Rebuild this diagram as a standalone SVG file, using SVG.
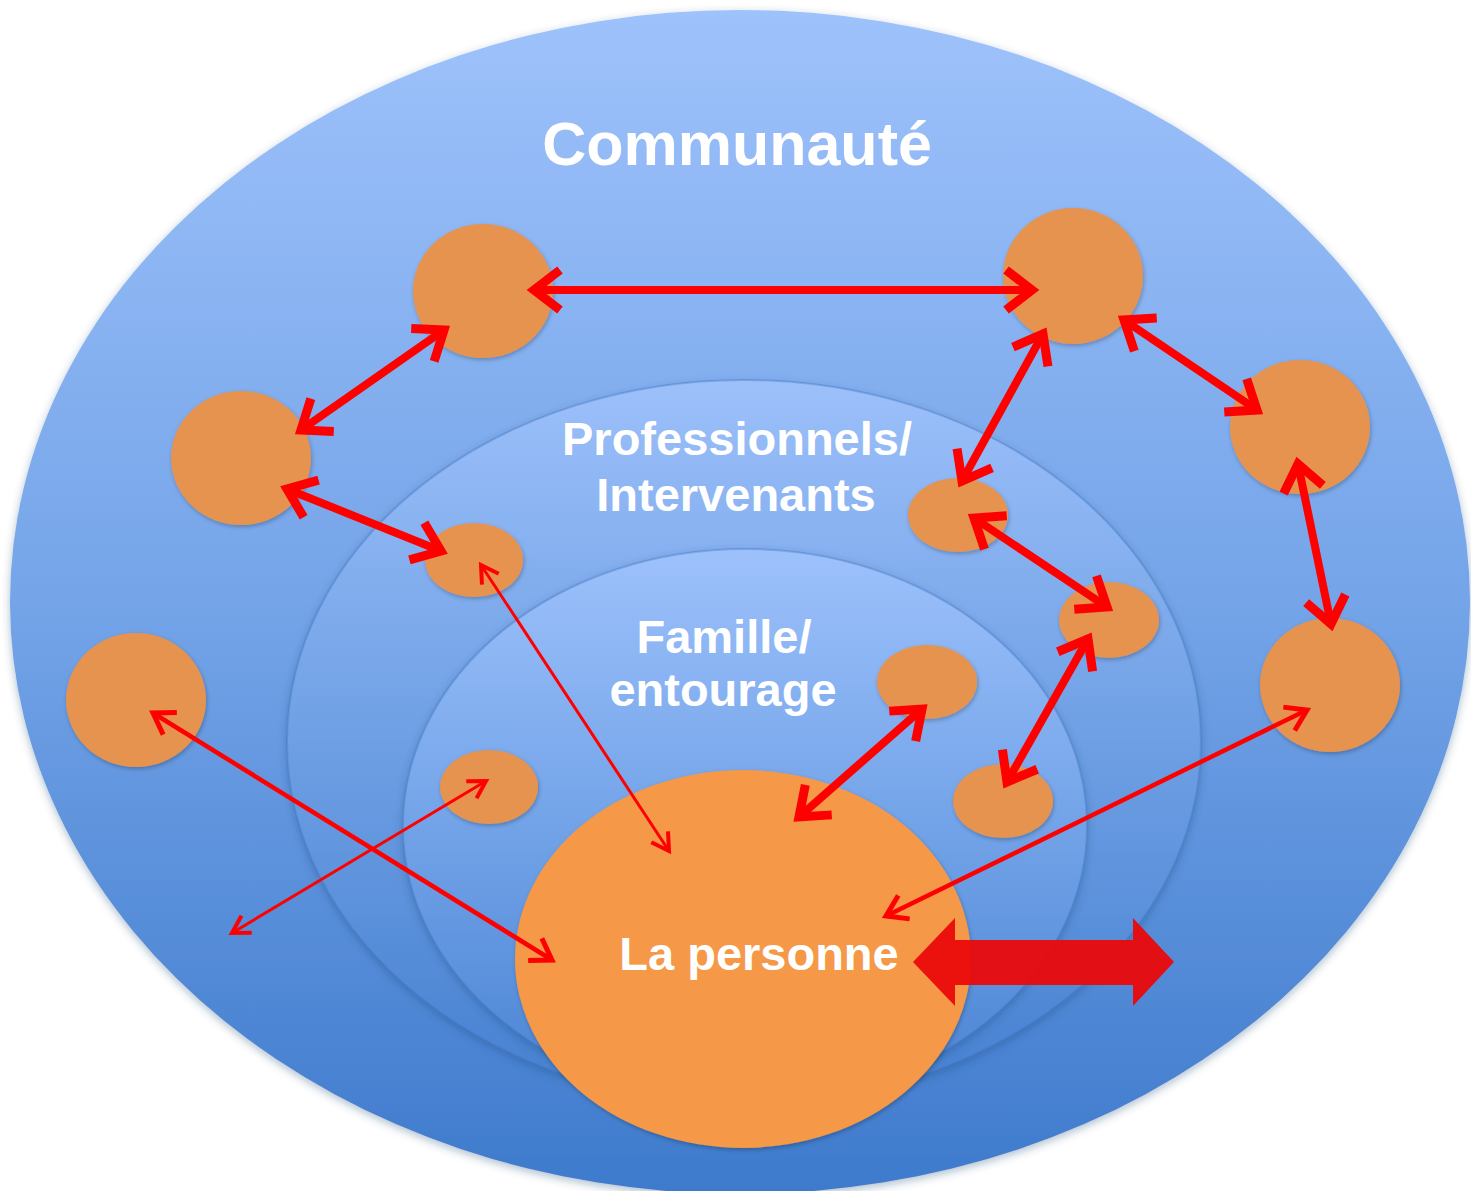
<svg xmlns="http://www.w3.org/2000/svg" width="1471" height="1191" viewBox="0 0 1471 1191">
  <defs>
    <linearGradient id="gOuter" x1="0" y1="0" x2="0" y2="1">
      <stop offset="0" stop-color="#9EC2FB"/>
      <stop offset="0.5" stop-color="#74A4E8"/>
      <stop offset="1" stop-color="#3E7ACC"/>
    </linearGradient>
    <linearGradient id="gMid" x1="0" y1="0" x2="0" y2="1">
      <stop offset="0" stop-color="#9CC0FA"/>
      <stop offset="0.5" stop-color="#6E9FE4"/>
      <stop offset="1" stop-color="#4580D0"/>
    </linearGradient>
    <linearGradient id="gInner" x1="0" y1="0" x2="0" y2="1">
      <stop offset="0" stop-color="#9DC1FB"/>
      <stop offset="0.5" stop-color="#72A3E8"/>
      <stop offset="1" stop-color="#4983D3"/>
    </linearGradient>
    <filter id="sh" x="-10%" y="-10%" width="120%" height="120%">
      <feDropShadow dx="0" dy="3" stdDeviation="4" flood-color="#1f3f70" flood-opacity="0.35"/>
    </filter>
    <filter id="shs" x="-20%" y="-20%" width="140%" height="140%">
      <feDropShadow dx="1" dy="2" stdDeviation="2" flood-color="#000" flood-opacity="0.25"/>
    </filter>
    <marker id="hT" viewBox="-34 -26 40 52" refX="0" refY="0" markerWidth="40" markerHeight="52" markerUnits="userSpaceOnUse" orient="auto-start-reverse" overflow="visible">
      <polyline points="-26,-20 0,0 -26,20" fill="none" stroke="#FF0000" stroke-width="9"/>
    </marker>
    <marker id="hM" viewBox="-30 -22 36 44" refX="0" refY="0" markerWidth="36" markerHeight="44" markerUnits="userSpaceOnUse" orient="auto-start-reverse" overflow="visible">
      <polyline points="-20,-13 0,0 -20,13" fill="none" stroke="#FF0000" stroke-width="5"/>
    </marker>
    <marker id="hS" viewBox="-30 -22 36 44" refX="0" refY="0" markerWidth="36" markerHeight="44" markerUnits="userSpaceOnUse" orient="auto-start-reverse" overflow="visible">
      <polyline points="-17,-10 0,0 -17,10" fill="none" stroke="#FF0000" stroke-width="4"/>
    </marker>
  </defs>
  <style>
    .small { fill: #E6934F; }
    .lbl { font-family: "Liberation Sans", Arial, sans-serif; font-weight: bold; fill: #FFFFFF; text-anchor: middle; }
    .thick { stroke: #FF0000; stroke-width: 8; fill: none; marker-start: url(#hT); marker-end: url(#hT); }
    .med { stroke: #FF0000; stroke-width: 4.5; fill: none; marker-start: url(#hM); marker-end: url(#hM); }
    .thin { stroke: #FF0000; stroke-width: 3; fill: none; marker-start: url(#hS); marker-end: url(#hS); }
  </style>
  <rect width="1471" height="1191" fill="#FFFFFF"/>

  <g id="communaute">
    <ellipse cx="740" cy="602" rx="730" ry="592" fill="url(#gOuter)" filter="url(#sh)"/>
    <text class="lbl" x="737" y="165" font-size="61">Communauté</text>
  </g>
  <g id="professionnels">
    <ellipse cx="744" cy="742" rx="457" ry="362" fill="url(#gMid)" stroke="#3F74BF" stroke-opacity="0.35" stroke-width="2" filter="url(#sh)"/>
    <text class="lbl" x="737" y="455" font-size="47">Professionnels/</text>
    <text class="lbl" x="736" y="511" font-size="47">Intervenants</text>
  </g>
  <g id="famille">
    <ellipse cx="745" cy="826" rx="342" ry="277" fill="url(#gInner)" stroke="#3F74BF" stroke-opacity="0.35" stroke-width="2" filter="url(#sh)"/>
    <text class="lbl" x="724" y="653" font-size="47">Famille/</text>
    <text class="lbl" x="723" y="706" font-size="47">entourage</text>
  </g>

  <g id="n1"><ellipse class="small" cx="483" cy="291" rx="70" ry="67" filter="url(#shs)"/></g>
  <g id="n2"><ellipse class="small" cx="1073" cy="276" rx="70" ry="68" filter="url(#shs)"/></g>
  <g id="n3"><ellipse class="small" cx="241" cy="458" rx="70" ry="67" filter="url(#shs)"/></g>
  <g id="n4"><ellipse class="small" cx="1300" cy="427" rx="70" ry="67" filter="url(#shs)"/></g>
  <g id="n5"><ellipse class="small" cx="474" cy="560" rx="49" ry="37" filter="url(#shs)"/></g>
  <g id="n6"><ellipse class="small" cx="958" cy="515" rx="50" ry="37" filter="url(#shs)"/></g>
  <g id="n7"><ellipse class="small" cx="1109" cy="620" rx="50" ry="38" filter="url(#shs)"/></g>
  <g id="n8"><ellipse class="small" cx="136" cy="700" rx="70" ry="67" filter="url(#shs)"/></g>
  <g id="n9"><ellipse class="small" cx="927" cy="682" rx="50" ry="37" filter="url(#shs)"/></g>
  <g id="n10"><ellipse class="small" cx="1330" cy="685" rx="70" ry="67" filter="url(#shs)"/></g>
  <g id="n11"><ellipse class="small" cx="1003" cy="801" rx="50" ry="37" filter="url(#shs)"/></g>
  <g id="n12"><ellipse class="small" cx="489" cy="787" rx="49" ry="37" filter="url(#shs)"/></g>

  <g id="personne">
    <ellipse cx="743" cy="959" rx="228" ry="189" fill="#F59846" filter="url(#shs)"/>
  </g>

  <g id="connectors">
    <line class="thick" x1="534" y1="290" x2="1032" y2="290"/>
    <line class="thick" x1="301" y1="430" x2="444" y2="330"/>
    <line class="thick" x1="287" y1="489" x2="441" y2="551"/>
    <line class="thick" x1="1043" y1="334" x2="962" y2="481"/>
    <line class="thick" x1="1124" y1="320" x2="1257" y2="410"/>
    <line class="thick" x1="1298" y1="464" x2="1331" y2="624"/>
    <line class="thick" x1="974" y1="518" x2="1107" y2="607"/>
    <line class="thick" x1="1088" y1="639" x2="1007" y2="782"/>
    <line class="thick" x1="922" y1="709" x2="799" y2="817"/>
    <line class="med" x1="153" y1="713" x2="552" y2="960"/>
    <line class="thin" x1="481" y1="565" x2="669" y2="851"/>
    <line class="thin" x1="486" y1="781" x2="232" y2="933"/>
    <line class="med" x1="1307" y1="710" x2="886" y2="916"/>
    <path id="bigArrow" d="M913,962 L955,918 L955,940 L1133,940 L1133,918 L1174,962 L1133,1006 L1133,985 L955,985 L955,1006 Z" fill="#EA0A0A" fill-opacity="0.95"/>
  </g>

  <g id="personne-label">
    <text class="lbl" x="759" y="970" font-size="47">La personne</text>
  </g>
</svg>
